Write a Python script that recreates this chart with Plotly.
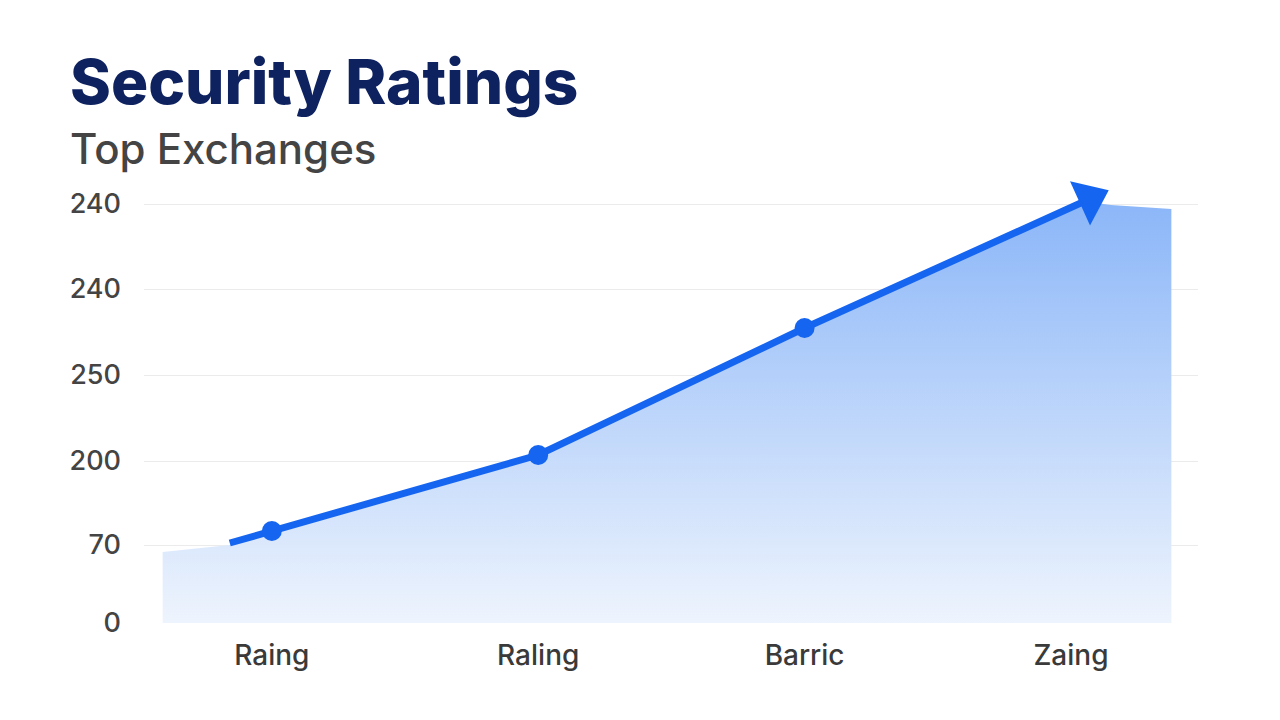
import plotly.graph_objects as go

# Categories and tick labels (as shown in the reference)
categories = ["Raing", "Raling", "Barric", "Zaing"]
category_pos = [0, 1, 2, 3]
y_tick_vals = [0, 78, 162, 248, 334, 419]
y_tick_text = ["0", "70", "200", "250", "240", "240"]

# Area series (x in category units, y in axis units)
area_x = [-0.41, -0.158, 0.0, 1.0, 2.0, 3.07, 3.15, 3.377]
area_y = [71, 78, 92, 168, 295, 421, 418, 414]

# Line series (starts slightly before first category, ends with an arrow)
line_x = [-0.158, 0.0, 1.0, 2.0, 3.07]
line_y = [80, 92, 168, 295, 424]

BLUE = "#1565F0"

fig = go.Figure()
fig.add_trace(go.Scatter(
    x=area_x, y=area_y, mode="lines", fill="tozeroy",
    line=dict(width=0, color="rgba(0,0,0,0)"),
    fillgradient=dict(type="vertical",
                      colorscale=[[0, "#EEF4FD"], [1, "#8BB6F8"]]),
    hoverinfo="skip", showlegend=False,
))
fig.add_trace(go.Scatter(
    x=line_x, y=line_y, mode="lines+markers",
    line=dict(color=BLUE, width=7),
    marker=dict(color=BLUE, opacity=1,
                size=[0, 20, 20, 20, 42],
                symbol=["circle", "circle", "circle", "circle", "triangle-up"],
                angleref="previous",
                line=dict(width=0)),
    showlegend=False,
))

fig.update_layout(
    width=1280, height=720,
    margin=dict(l=144, r=82, t=180, b=97),
    paper_bgcolor="white", plot_bgcolor="white",
    font=dict(family="Inter, Lato, sans-serif", color="#444444"),
    xaxis=dict(range=[-0.48, 3.477], tickvals=category_pos, ticktext=categories,
               showgrid=False, zeroline=False, showline=False,
               tickfont=dict(size=28, color="#3a3a3a", weight=500), ticklabelstandoff=13),
    yaxis=dict(range=[0, 443], tickvals=y_tick_vals, ticktext=y_tick_text,
               showgrid=True, gridcolor="#EBEBEB", gridwidth=1,
               zeroline=False, showline=False,
               tickfont=dict(size=27, color="#444444", weight=500), ticklabelstandoff=22),
    annotations=[
        dict(text="Security Ratings", xref="paper", yref="paper",
             x=-0.072, y=1.223, xanchor="left", yanchor="middle", showarrow=False,
             font=dict(size=62, color="#0E2260", family="Inter, sans-serif", weight=800)),
        dict(text="Top Exchanges", xref="paper", yref="paper",
             x=-0.072, y=1.071, xanchor="left", yanchor="middle", showarrow=False,
             font=dict(size=42, color="#444444", family="Inter, sans-serif", weight=500)),
    ],
)

fig.write_html("out.html")
